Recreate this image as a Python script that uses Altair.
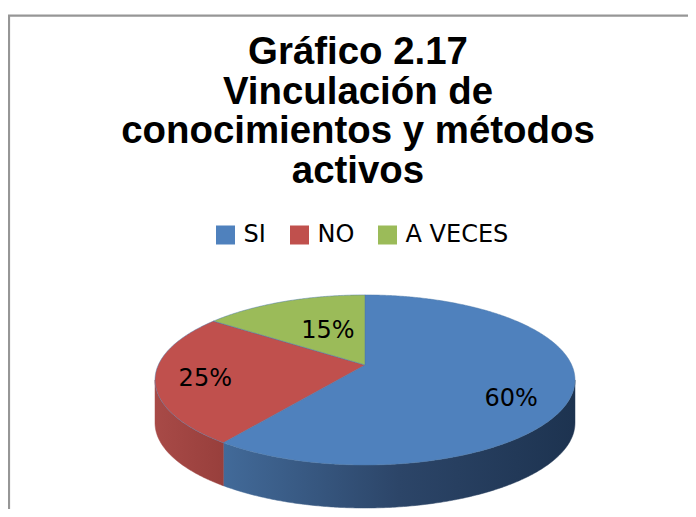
import math
import altair as alt
import pandas as pd

CATEGORIES = ["SI", "NO", "A VECES"]
VALUES = [60, 25, 15]
COLORS = ["#4f81bd", "#c0504d", "#9bbb59"]
TITLE = ["Gráfico 2.17", "Vinculación de", "conocimientos y métodos", "activos"]

W, H = 680, 501
CX, CY = 357, 357      # pie centre in plot pixels
SX, SY = 206.7, 82.4   # projected radii
K = 0.176              # perspective strength
DEPTH = 43


def project(theta_deg, r=1.0):
    t = math.radians(theta_deg)
    u, v = r * math.sin(t), r * math.cos(t)
    w = 1 + K * v
    return CX + SX * u / w, CY - SY * v / w


x_enc = alt.X("px:Q", scale=alt.Scale(domain=[0, W], nice=False, zero=False), axis=None)
y_enc = alt.Y("py:Q", scale=alt.Scale(domain=[H, 0], nice=False, zero=False), axis=None)

# slice angle ranges derived from the values
starts, ends, acc = [], [], 0.0
for val in VALUES:
    starts.append(acc / sum(VALUES) * 360)
    acc += val
    ends.append(acc / sum(VALUES) * 360)

# top faces
top_rows = []
for cat, a, b in zip(CATEGORIES, starts, ends):
    n = int(b - a) * 2 + 1
    top_rows.append({"cat": cat, "px": CX, "py": CY, "i": 0})
    for j in range(n):
        th = a + (b - a) * j / (n - 1)
        px, py = project(th)
        top_rows.append({"cat": cat, "px": px, "py": py, "i": j + 1})
    top_rows.append({"cat": cat, "px": CX, "py": CY, "i": n + 1})

top = (
    alt.Chart(pd.DataFrame(top_rows))
    .mark_line(strokeWidth=0.5, interpolate="linear", clip=False)
    .encode(
        x=x_enc,
        y=y_enc,
        order=alt.Order("i:Q"),
        fill=alt.Fill(
            "cat:N",
            scale=alt.Scale(domain=CATEGORIES, range=COLORS),
            legend=alt.Legend(
                title=None,
                orient="none",
                legendX=205.5,
                legendY=215,
                direction="horizontal",
                symbolType="square",
                symbolSize=361,
                symbolStrokeWidth=0,
                labelFont="DejaVu Sans",
                labelFontSize=24,
                labelColor="#000000",
                labelOffset=6,
                columnPadding=21,
            ),
        ),
    )
)

# side walls
TL = math.degrees(math.atan2(math.sqrt(1 - K * K), -K))
SIDE_STOPS = {
    "SI": ["#426a99", "#2c4568", "#1d3350"],
    "NO": ["#a84a47", "#983f3c"],
}
side_layers = []
for cat, a, b in zip(CATEGORIES, starts, ends):
    lo, hi = max(a, TL), min(b, 360 - TL)
    if lo >= hi or cat not in SIDE_STOPS:
        continue
    n = int(hi - lo) * 2 + 1
    ths = [lo + (hi - lo) * j / (n - 1) for j in range(n)]
    rows = [dict(zip(("px", "py"), project(t))) for t in ths]
    rows += [{"px": project(t)[0], "py": project(t)[1] + DEPTH} for t in reversed(ths)]
    for i, r in enumerate(rows):
        r["i"] = i
    rows.append({**rows[0], "i": len(rows)})
    cols = SIDE_STOPS[cat]
    grad = alt.Gradient(
        gradient="linear",
        x1=0, x2=1, y1=0, y2=0,
        stops=[alt.GradientStop(offset=i / (len(cols) - 1), color=c) for i, c in enumerate(cols)],
    )
    side_layers.append(
        alt.Chart(pd.DataFrame(rows))
        .mark_line(fill=grad, stroke=grad, strokeWidth=0.5)
        .encode(x=x_enc, y=y_enc, order=alt.Order("i:Q"))
    )

# data labels
LABEL_SHIFT = {"SI": (3, 15), "NO": (-14, 5), "A VECES": (22, 12)}
label_layers = []
for cat, val, a, b in zip(CATEGORIES, VALUES, starts, ends):
    px, py = project((a + b) / 2, 0.7)
    dx, dy = LABEL_SHIFT[cat]
    label_layers.append(
        alt.Chart(pd.DataFrame([{"px": px, "py": py, "label": f"{val}%"}]))
        .mark_text(font="DejaVu Sans", fontSize=24, color="#000000", dx=dx, dy=dy)
        .encode(x=x_enc, y=y_enc, text="label:N")
    )

frame_left = alt.Chart(pd.DataFrame({"a": [0]})).mark_rule(color="#969696", strokeWidth=2.6).encode(
    x=alt.value(0.8), y=alt.value(7), y2=alt.value(H)
)
frame_top = alt.Chart(pd.DataFrame({"a": [0]})).mark_rule(color="#969696", strokeWidth=2.2).encode(
    x=alt.value(0), x2=alt.value(W), y=alt.value(7.6)
)

chart = alt.layer(frame_left, frame_top, *side_layers, top, *label_layers).properties(
    width=W,
    height=H,
    padding=0,
    autosize=alt.AutoSizeParams(type="none"),
    background="#ffffff",
    title=alt.TitleParams(
        text=TITLE,
        font="Liberation Sans",
        fontSize=38.4,
        fontWeight="bold",
        color="#000000",
        lineHeight=39.5,
        anchor="middle",
        baseline="top",
        offset=0,
        dy=183,
        dx=10,
    ),
).configure_view(stroke=None)

chart.save("out.html", embed_options={"renderer": "svg", "actions": False})
